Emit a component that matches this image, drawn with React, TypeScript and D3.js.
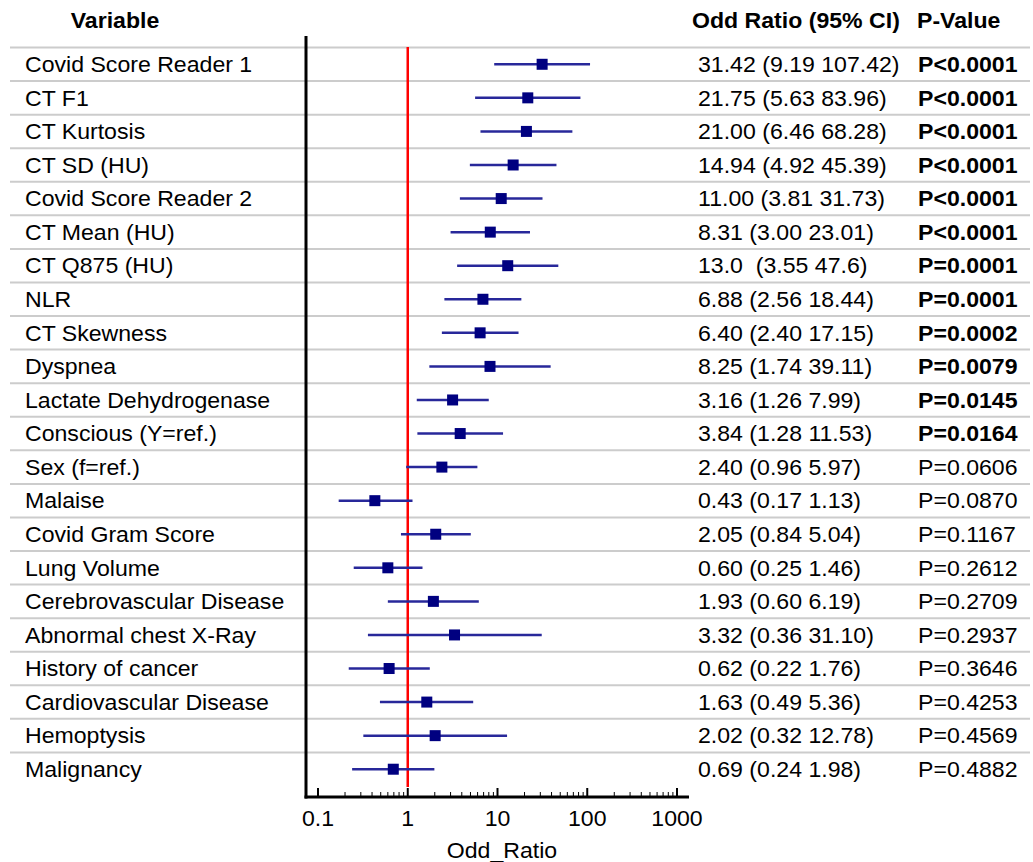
import * as d3 from 'd3';

const variables = [
  'Covid Score Reader 1', 'CT F1', 'CT Kurtosis', 'CT SD (HU)', 'Covid Score Reader 2',
  'CT Mean (HU)', 'CT Q875 (HU)', 'NLR', 'CT Skewness', 'Dyspnea',
  'Lactate Dehydrogenase', 'Conscious (Y=ref.)', 'Sex (f=ref.)', 'Malaise', 'Covid Gram Score',
  'Lung Volume', 'Cerebrovascular Disease', 'Abnormal chest X-Ray', 'History of cancer',
  'Cardiovascular Disease', 'Hemoptysis', 'Malignancy',
];
const oddRatio = [31.42, 21.75, 21.0, 14.94, 11.0, 8.31, 13.0, 6.88, 6.4, 8.25, 3.16, 3.84, 2.4, 0.43, 2.05, 0.6, 1.93, 3.32, 0.62, 1.63, 2.02, 0.69];
const ciLow = [9.19, 5.63, 6.46, 4.92, 3.81, 3.0, 3.55, 2.56, 2.4, 1.74, 1.26, 1.28, 0.96, 0.17, 0.84, 0.25, 0.6, 0.36, 0.22, 0.49, 0.32, 0.24];
const ciHigh = [107.42, 83.96, 68.28, 45.39, 31.73, 23.01, 47.6, 18.44, 17.15, 39.11, 7.99, 11.53, 5.97, 1.13, 5.04, 1.46, 6.19, 31.1, 1.76, 5.36, 12.78, 1.98];
const orLabels = [
  '31.42 (9.19 107.42)', '21.75 (5.63 83.96)', '21.00 (6.46 68.28)', '14.94 (4.92 45.39)', '11.00 (3.81 31.73)',
  '8.31 (3.00 23.01)', '13.0  (3.55 47.6)', '6.88 (2.56 18.44)', '6.40 (2.40 17.15)', '8.25 (1.74 39.11)',
  '3.16 (1.26 7.99)', '3.84 (1.28 11.53)', '2.40 (0.96 5.97)', '0.43 (0.17 1.13)', '2.05 (0.84 5.04)',
  '0.60 (0.25 1.46)', '1.93 (0.60 6.19)', '3.32 (0.36 31.10)', '0.62 (0.22 1.76)', '1.63 (0.49 5.36)',
  '2.02 (0.32 12.78)', '0.69 (0.24 1.98)',
];
const pValues = [
  'P<0.0001', 'P<0.0001', 'P<0.0001', 'P<0.0001', 'P<0.0001', 'P<0.0001', 'P=0.0001', 'P=0.0001',
  'P=0.0002', 'P=0.0079', 'P=0.0145', 'P=0.0164', 'P=0.0606', 'P=0.0870', 'P=0.1167', 'P=0.2612',
  'P=0.2709', 'P=0.2937', 'P=0.3646', 'P=0.4253', 'P=0.4569', 'P=0.4882',
];
const significantCount = 12;
const majorTicks = [0.1, 1, 10, 100, 1000];
const tickLabels = ['0.1', '1', '10', '100', '1000'];

const width = 1033;
const height = 862;
const font = 'Liberation Sans, Arial, sans-serif';

// text slightly wider than tall, like the source image
function T({ x, y, children, anchor = 'start', bold = false }: any) {
  return (
    <g transform={`translate(${x},${y}) scale(1.05,1)`}>
      <text dy="0.35em" textAnchor={anchor} fontSize={22} fontWeight={bold ? 'bold' : 'normal'}
        style={{ whiteSpace: 'pre' }}>{children}</text>
    </g>
  );
}

export default function App() {
  const x = d3.scaleLog().domain([0.1, 1000]).range([318, 677]);
  const y = d3.scaleBand<string>().domain(variables).range([47.5, 786]);
  const bw = y.bandwidth();
  const axisY = 797;
  const axisLeft = 306;

  const minorTicks: number[] = [];
  for (let p = -1; p < 3; p++) {
    for (let m = 2; m <= 9; m++) minorTicks.push(m * Math.pow(10, p));
  }

  return (
    <svg width={width} height={height} style={{ position: 'absolute', left: 0, top: 0, background: '#fff' }}
      fontFamily={font}>
      {/* headers */}
      <T x={115} y={20} anchor="middle" bold>Variable</T>
      <T x={692} y={20} bold>Odd Ratio (95% CI)</T>
      <T x={917} y={20} bold>P-Value</T>

      {/* row separators */}
      {variables.map(v => (
        <line key={'s' + v} x1={10} x2={1030} y1={y(v)} y2={y(v)} stroke="#cccccc" strokeWidth={2} />
      ))}

      {/* reference line at 1 */}
      <line x1={x(1)} x2={x(1)} y1={47} y2={787} stroke="#ff0000" strokeWidth={2.5} />

      {/* CI and points */}
      {variables.map((v, i) => {
        const cy = (y(v) ?? 0) + bw / 2;
        return (
          <g key={'p' + v}>
            <line x1={x(ciLow[i])} x2={x(ciHigh[i])} y1={cy} y2={cy} stroke="#28289a" strokeWidth={2.5} />
            <rect x={x(oddRatio[i]) - 5.5} y={cy - 5.5} width={11} height={11} fill="#000080" />
          </g>
        );
      })}

      {/* row texts */}
      {variables.map((v, i) => {
        const cy = (y(v) ?? 0) + bw / 2;
        return (
          <g key={'t' + v}>
            <T x={25} y={cy}>{v}</T>
            <T x={698} y={cy}>{orLabels[i]}</T>
            <T x={918} y={cy} bold={i < significantCount}>{pValues[i]}</T>
          </g>
        );
      })}

      {/* axes */}
      <line x1={axisLeft} x2={axisLeft} y1={36} y2={axisY + 1.5} stroke="#000" strokeWidth={3} />
      <line x1={axisLeft - 1.5} x2={689} y1={axisY} y2={axisY} stroke="#000" strokeWidth={3} />
      {minorTicks.map(t => (
        <line key={'m' + t} x1={x(t)} x2={x(t)} y1={axisY} y2={axisY - 5} stroke="#000" strokeWidth={1} />
      ))}
      {majorTicks.map((t, i) => (
        <g key={'M' + t}>
          <line x1={x(t)} x2={x(t)} y1={axisY} y2={axisY - 9} stroke="#000" strokeWidth={2} />
          <T x={x(t)} y={818} anchor="middle">{tickLabels[i]}</T>
        </g>
      ))}
      <T x={502} y={850} anchor="middle">Odd_Ratio</T>
    </svg>
  );
}
